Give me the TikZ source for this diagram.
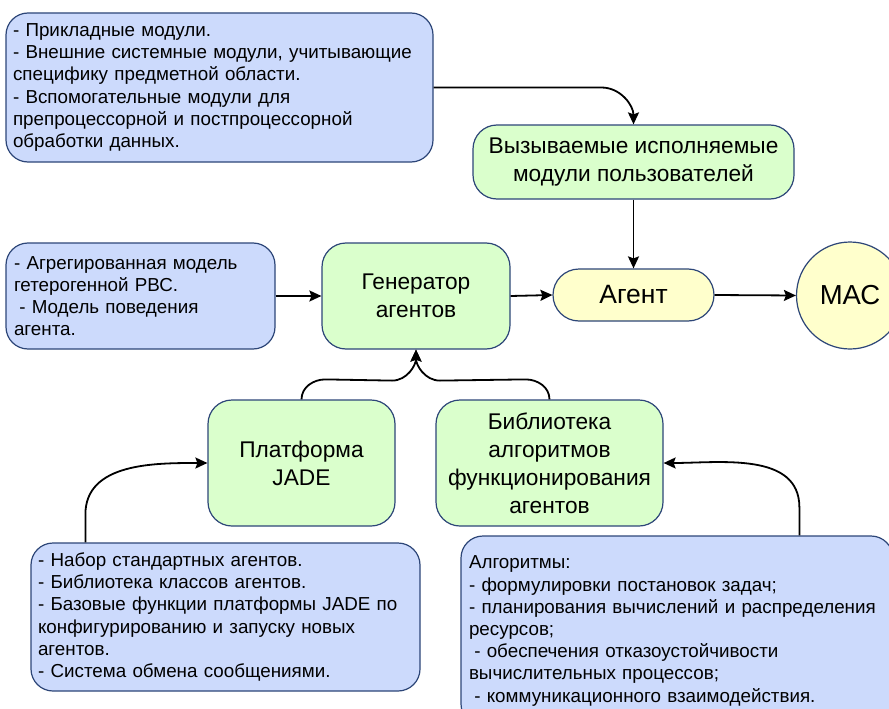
\documentclass[tikz,border=0pt]{standalone}
\usepackage{fontspec}
\setmainfont{Liberation Sans}
\usetikzlibrary{arrows.meta}
\definecolor{bluefill}{RGB}{204,218,252}
\definecolor{greenfill}{RGB}{218,255,204}
\definecolor{yellowfill}{RGB}{255,255,204}
\definecolor{edgecol}{RGB}{45,70,120}
\begin{document}
\begin{tikzpicture}[x=1pt,y=-1pt,
  bluebox/.style={draw=edgecol, fill=bluefill, line width=1.2pt, rounded corners=22pt, align=left, inner xsep=7pt, inner ysep=0pt, font=\fontsize{18.8}{22.2}\selectfont},
  greenbox/.style={draw=edgecol, fill=greenfill, line width=1.2pt, rounded corners=24pt, align=center, inner sep=0pt, font=\fontsize{22.7}{28}\selectfont},
  yellowbox/.style={draw=edgecol, fill=yellowfill, line width=1.2pt, inner sep=0pt},
  arr/.style={line width=1.8pt, -{Stealth[length=12pt,width=11pt,inset=2pt]}}
]
\useasboundingbox (0,0) rectangle (889,709);
\clip (0,0) rectangle (889,709);
\fill[white] (0,0) rectangle (889,709);

\node[bluebox, minimum width=427, minimum height=149, text width=413] (b1) at (219.5,87.5)
 {- Прикладные модули.\\- Внешние системные модули, учитывающие\\специфику предметной области.\\- Вспомогательные модули для\\препроцессорной и постпроцессорной\\обработки данных.};
\node[bluebox, minimum width=269, minimum height=106, text width=253, inner xsep=8pt] (b3) at (140.5,296)
 {- Агрегированная модель\\гетерогенной РВС.\\\hspace*{0.28em}- Модель поведения\\агента.};
\node[bluebox, minimum width=389, minimum height=148, text width=375] (b4) at (225.5,617)
 {- Набор стандартных агентов.\\- Библиотека классов агентов.\\- Базовые функции платформы JADE по\\конфигурированию и запуску новых\\агентов.\\- Система обмена сообщениями.};
\node[bluebox, minimum width=432, minimum height=190, text width=416, inner xsep=8pt] (b5) at (677,631)
 {Алгоритмы:\\- формулировки постановок задач;\\- планирования вычислений и распределения\\ресурсов;\\\hspace*{0.28em}- обеспечения отказоустойчивости\\вычислительных процессов;\\\hspace*{0.28em}- коммуникационного взаимодействия.};

\node[greenbox, minimum width=321, minimum height=74] (vyz) at (633.5,162) {Вызываемые исполняемые\\модули пользователей};
\node[greenbox, minimum width=188, minimum height=106] (gen) at (416,296) {Генератор\\агентов};
\node[greenbox, minimum width=187, minimum height=126] (plat) at (301.5,463) {Платформа\\JADE};
\node[greenbox, minimum width=227, minimum height=126] (bib) at (549.5,463) {Библиотека\\алгоритмов\\функционирования\\агентов};

\node[yellowbox, rounded corners=26pt, minimum width=161, minimum height=52, font=\fontsize{26.5}{30}\selectfont] (agent) at (633.5,295) {Агент};
\node[yellowbox, circle, minimum size=107, font=\fontsize{27.5}{31}\selectfont] (mac) at (850,295.5) {МАС};

\draw[arr] (b1.east) -- ([xshift=-32pt]b1.east -| vyz.north) to[out=0,in=90] (vyz.north);
\draw[arr] (vyz.south) -- (agent.north);
\draw[arr] (b3.east) -- (gen.west);
\draw[arr] (gen.east) -- (agent.west);
\draw[arr] (agent.east) -- (mac.west);
\draw[arr] (plat.north) to[out=90,in=180] ([xshift=24pt,yshift=20pt]plat.north) -- ([xshift=-24pt,yshift=-31pt]gen.south) to[out=0,in=-90] (gen.south);
\draw[arr] (bib.north) to[out=90,in=0] ([xshift=-24pt,yshift=20pt]bib.north) -- ([xshift=24pt,yshift=-31pt]gen.south) to[out=180,in=-90] (gen.south);
\draw[arr] ([xshift=55pt]b4.north west) -- ++(0,-28) to[out=90,in=180] (plat.west);
\draw[arr] ([xshift=339pt]b5.north west) -- ++(0,-28) to[out=90,in=0] (bib.east);
\end{tikzpicture}
\end{document}
